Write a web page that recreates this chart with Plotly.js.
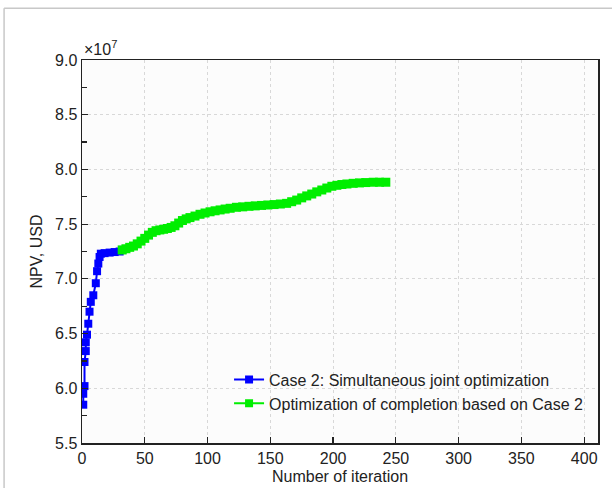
<!DOCTYPE html>
<html>
<head>
<meta charset="utf-8">
<script src="https://cdn.plot.ly/plotly-3.0.1.min.js"></script>
<style>html,body{margin:0;padding:0;background:#fff;}#chart{width:612px;height:488px;}</style>
</head>
<body>
<div id="chart"></div>
<script>
// Values in units of 1e7 USD
const case2Iter = [1, 1, 2, 2, 3, 3, 4, 5, 6, 7, 9, 11, 12, 13, 14, 15, 18, 22, 26, 30, 32];
const case2NPV  = [5.85, 5.95, 6.02, 6.24, 6.34, 6.42, 6.49, 6.59, 6.70, 6.79, 6.85, 6.96, 7.07, 7.14, 7.20, 7.23, 7.235, 7.24, 7.245, 7.25, 7.265];

const complIter = [32, 35, 38, 41, 44, 47, 50, 53, 56, 59, 62, 65, 68, 71, 74, 77, 80, 83, 86, 90, 94, 98, 102, 106, 110, 114, 118, 123, 128, 133, 138, 143, 148, 153, 158, 163, 167, 171, 175, 179, 183, 187, 191, 195, 199, 203, 207, 211, 216, 221, 226, 232, 237, 242];
const complNPV  = [7.264, 7.275, 7.288, 7.30, 7.32, 7.345, 7.37, 7.40, 7.425, 7.44, 7.447, 7.453, 7.46, 7.47, 7.485, 7.51, 7.533, 7.548, 7.56, 7.574, 7.59, 7.602, 7.613, 7.622, 7.63, 7.638, 7.645, 7.654, 7.658, 7.663, 7.667, 7.671, 7.675, 7.679, 7.684, 7.69, 7.705, 7.72, 7.74, 7.758, 7.775, 7.795, 7.812, 7.83, 7.846, 7.855, 7.862, 7.867, 7.873, 7.877, 7.88, 7.883, 7.883, 7.883];

const seriesNames = ['Case 2: Simultaneous joint optimization', 'Optimization of completion based on Case 2'];
const xTicks = [0, 50, 100, 150, 200, 250, 300, 350, 400];
const yTicks = [5.5, 6.0, 6.5, 7.0, 7.5, 8.0, 8.5, 9.0];

const font = 'Liberation Sans, Arial, sans-serif';
const blue = '#0000ff';
const green = '#00ee00';

const traces = [
  {
    x: case2Iter, y: case2NPV, name: seriesNames[0], type: 'scatter', mode: 'lines+markers',
    line: {color: blue, width: 2},
    marker: {symbol: 'square', size: 8, color: blue}
  },
  {
    x: complIter, y: complNPV, name: seriesNames[1], type: 'scatter', mode: 'lines+markers',
    line: {color: green, width: 5},
    marker: {symbol: 'square', size: 9, color: green},
    showlegend: false
  },
  {
    x: [null], y: [null], name: seriesNames[1], type: 'scatter', mode: 'lines+markers',
    line: {color: green, width: 2},
    marker: {symbol: 'square', size: 8, color: green}
  }
];

const layout = {
  width: 612, height: 488,
  margin: {l: 82, r: 14, t: 60, b: 45},
  paper_bgcolor: '#ffffff',
  plot_bgcolor: '#fcfcfc',
  font: {family: font, size: 16, color: '#222'},
  showlegend: true,
  legend: {
    x: 0.285, y: 0.21, xanchor: 'left', yanchor: 'top',
    bgcolor: 'rgba(0,0,0,0)', borderwidth: 0,
    font: {family: font, size: 16, color: '#222'},
    tracegroupgap: 0
  },
  xaxis: {
    range: [0, 411],
    tickvals: xTicks,
    ticks: 'inside', ticklen: 6, tickwidth: 1.2, tickcolor: '#222',
    showline: true, linecolor: '#222', linewidth: 1.5, mirror: true,
    showgrid: true, gridcolor: '#d8d8d8', griddash: 'dot', gridwidth: 1,
    zeroline: false,
    tickfont: {family: font, size: 16, color: '#222'},
    title: {text: 'Number of iteration', font: {family: font, size: 16, color: '#222'}, standoff: 5}
  },
  yaxis: {
    range: [5.5, 9.0],
    tickvals: yTicks,
    tickformat: '.1f',
    ticks: 'inside', ticklen: 6, tickwidth: 1.2, tickcolor: '#222',
    minor: {dtick: 0.25, ticks: 'inside', ticklen: 5, tickwidth: 1.2, tickcolor: '#222', showgrid: false},
    showline: true, linecolor: '#222', linewidth: 1.5, mirror: true,
    showgrid: true, gridcolor: '#d8d8d8', griddash: 'dot', gridwidth: 1,
    zeroline: false,
    tickfont: {family: font, size: 16, color: '#222'},
    title: {text: 'NPV, USD', font: {family: font, size: 16, color: '#222'}, standoff: 8}
  },
  annotations: [
    {xref: 'paper', yref: 'paper', x: 0.0, y: 1.0, xanchor: 'left', yanchor: 'bottom',
     text: '×10<sup>7</sup>', showarrow: false, font: {family: font, size: 16, color: '#222'}}
  ],
  shapes: [
    {type: 'line', xref: 'paper', yref: 'paper', x0: -0.151, x1: 1.03, y0: 1.135, y1: 1.135, line: {color: '#c8c8c8', width: 1.5}},
    {type: 'line', xref: 'paper', yref: 'paper', x0: -0.151, x1: -0.151, y0: 1.135, y1: -0.12, line: {color: '#c8c8c8', width: 1.5}}
  ]
};

Plotly.newPlot('chart', traces, layout, {displayModeBar: false, staticPlot: true});
</script>
</body>
</html>
